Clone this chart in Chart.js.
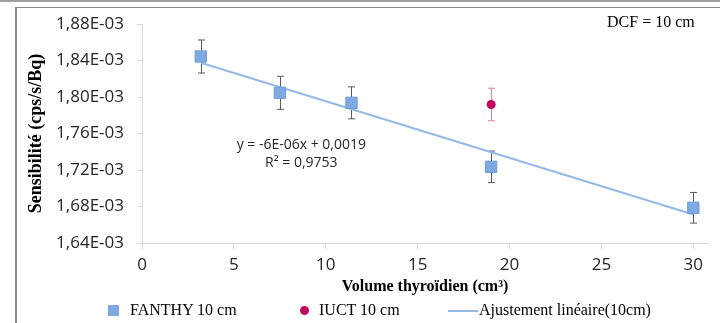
<!DOCTYPE html>
<html>
<head>
<meta charset="utf-8">
<script src="https://cdn.jsdelivr.net/npm/chart.js@4.4.1/dist/chart.umd.min.js"></script>
<style>
  html, body { margin: 0; padding: 0; background: #fff; }
  #wrap { position: relative; width: 720px; height: 323px; overflow: hidden; }
  #topline { position: absolute; left: 0; top: 0; width: 720px; height: 2px; background: #a0a0a0; }
  #frame { position: absolute; left: 15px; top: 7px; width: 720px; height: 330px;
           border-left: 2px solid #8a8a8a; border-top: 1px solid #8a8a8a; }
  canvas { position: absolute; left: 0; top: 0; }
  .txt { position: absolute; font-family: "Liberation Serif", serif; font-size: 16px; color: #000; white-space: nowrap; }
  .sq { position: absolute; width: 11px; height: 11px; background: #7ea9e1; }
  .dot { position: absolute; width: 9px; height: 9px; border-radius: 50%; background: #c0095f; }
  .ln { position: absolute; height: 2px; background: #95b9e6; }
</style>
</head>
<body>
<div id="wrap">
  <div id="topline"></div>
  <div id="frame"></div>
  <canvas id="myChart" width="720" height="323"></canvas>
  <div class="txt" style="left:607px; top:13px;">DCF = 10 cm</div>
  <div class="sq" style="left:108px; top:305px;"></div>
  <div class="txt" style="left:130px; top:301px;">FANTHY 10 cm</div>
  <div class="dot" style="left:300px; top:306px;"></div>
  <div class="txt" style="left:319px; top:301px;">IUCT 10 cm</div>
  <div class="ln" style="left:448px; top:310px; width:30px;"></div>
  <div class="txt" style="left:479px; top:301px;">Ajustement linéaire(10cm)</div>
</div>
<script>
const fanthyVolume = [3.2, 7.5, 11.4, 19, 30];
const fanthySens = [1.8444e-3, 1.8046e-3, 1.7936e-3, 1.7235e-3, 1.6786e-3];
const fanthyErr = [1.81e-5, 1.81e-5, 1.75e-5, 1.73e-5, 1.68e-5];

const iuctVolume = [19];
const iuctSens = [1.7918e-3];
const iuctErr = [1.78e-5];

const fitVolume = [3.2, 30];
const fitSens = [1.8375e-3, 1.6712e-3];

const xTicks = [0, 5, 10, 15, 20, 25, 30];
const yTicks = [1.64e-3, 1.68e-3, 1.72e-3, 1.76e-3, 1.80e-3, 1.84e-3, 1.88e-3];

const fitLabel = ['y = -6E-06x + 0,0019', 'R² = 0,9753'];

const toPoints = (xs, ys) => xs.map((x, i) => ({ x: x, y: ys[i] }));

// error bars, drawn under the markers
const errorBars = {
    id: 'errorBars',
    beforeDatasetsDraw(chart) {
        const { ctx, scales: { x, y } } = chart;
        const sets = [
            [fanthyVolume, fanthySens, fanthyErr, '#595959'],
            [iuctVolume, iuctSens, iuctErr, '#e57fab']
        ];
        ctx.save();
        ctx.lineWidth = 1;
        sets.forEach(([xs, ys, es, col]) => {
            ctx.strokeStyle = col;
            xs.forEach((v, i) => {
                const px = Math.round(x.getPixelForValue(v)) + 0.5;
                const top = y.getPixelForValue(ys[i] + es[i]);
                const bot = y.getPixelForValue(ys[i] - es[i]);
                ctx.beginPath();
                ctx.moveTo(px, top); ctx.lineTo(px, bot);
                ctx.moveTo(px - 3.5, top); ctx.lineTo(px + 3.5, top);
                ctx.moveTo(px - 3.5, bot); ctx.lineTo(px + 3.5, bot);
                ctx.stroke();
            });
        });
        ctx.restore();
    }
};

const fitText = {
    id: 'fitText',
    afterDatasetsDraw(chart) {
        const { ctx, scales: { x, y } } = chart;
        ctx.save();
        ctx.font = '14px "Open Sans", sans-serif';
        ctx.fillStyle = '#262626';
        ctx.textAlign = 'center';
        ctx.textBaseline = 'middle';
        const cx = x.getPixelForValue(8.67);
        ctx.fillText(fitLabel[0], cx, y.getPixelForValue(1.7479e-3));
        ctx.fillText(fitLabel[1], cx, y.getPixelForValue(1.7282e-3));
        ctx.restore();
    }
};

const ctx = document.getElementById('myChart').getContext('2d');

const myChart = new Chart(ctx, {
    type: 'scatter',
    data: {
        datasets: [{
            label: 'FANTHY 10 cm',
            data: toPoints(fanthyVolume, fanthySens),
            pointStyle: 'rect',
            pointRadius: 8,
            backgroundColor: '#7ea9e1',
            borderColor: '#6f9bd6',
            borderWidth: 1,
            order: 1
        }, {
            label: 'IUCT 10 cm',
            data: toPoints(iuctVolume, iuctSens),
            pointStyle: 'circle',
            pointRadius: 4.5,
            backgroundColor: '#c0095f',
            borderColor: '#c0095f',
            borderWidth: 0,
            order: 0
        }, {
            label: 'Ajustement linéaire(10cm)',
            type: 'line',
            data: toPoints(fitVolume, fitSens),
            borderColor: '#95b9e6',
            borderWidth: 2,
            pointRadius: 0,
            fill: false,
            order: 2
        }]
    },
    options: {
        responsive: false,
        animation: false,
        layout: { padding: { left: 20, top: 24, right: 12, bottom: 23 } },
        plugins: {
            legend: { display: false },
            tooltip: { enabled: false }
        },
        scales: {
            x: {
                type: 'linear',
                min: 0,
                max: 30.8,
                afterBuildTicks: s => { s.ticks = xTicks.map(v => ({ value: v })); },
                afterFit: s => { s.height = 57; },
                grid: { drawOnChartArea: false, color: '#d9d9d9', tickLength: 6 },
                border: { color: '#d9d9d9' },
                ticks: {
                    padding: 6,
                    color: '#262626',
                    font: { family: '"Open Sans", sans-serif', size: 17 },
                    maxRotation: 0
                },
                title: {
                    display: true,
                    text: 'Volume thyroïdien (cm³)',
                    color: '#000',
                    font: { family: '"Liberation Serif", serif', size: 16, weight: 'bold' },
                    padding: { top: 0, bottom: 4 }
                }
            },
            y: {
                min: 1.64e-3,
                max: 1.88e-3,
                afterBuildTicks: s => { s.ticks = yTicks.map(v => ({ value: v })); },
                afterFit: s => { s.width = 122; },
                grid: { drawOnChartArea: false, color: '#d9d9d9', tickLength: 5 },
                border: { color: '#d9d9d9' },
                ticks: {
                    padding: 13,
                    color: '#262626',
                    font: { family: '"Open Sans", sans-serif', size: 17 },
                    callback: v => (v * 1000).toFixed(2).replace('.', ',') + 'E-03'
                },
                title: {
                    display: true,
                    text: 'Sensibilité (cps/s/Bq)',
                    color: '#000',
                    font: { family: '"Liberation Serif", serif', size: 18, weight: 'bold' },
                    padding: { top: 6, bottom: 0 }
                }
            }
        }
    },
    plugins: [errorBars, fitText]
});
</script>
</body>
</html>
